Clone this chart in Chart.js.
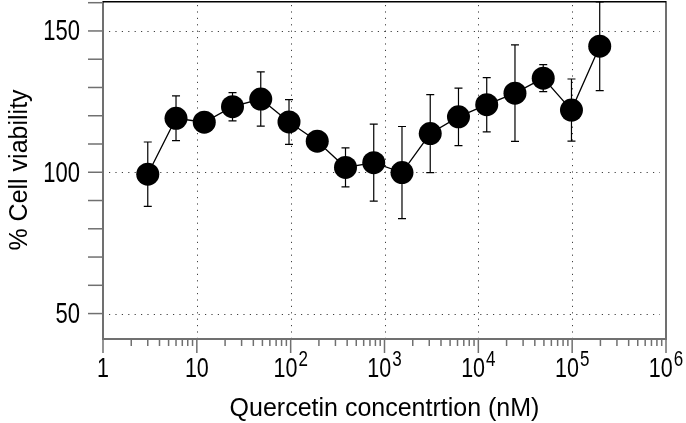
<!DOCTYPE html>
<html>
<head>
<meta charset="utf-8">
<script src="https://cdn.jsdelivr.net/npm/chart.js@4.4.0/dist/chart.umd.min.js"></script>
<style>
  html, body { margin: 0; padding: 0; background: #fff; }
  #wrap { width: 686px; height: 423px; position: relative; }
</style>
</head>
<body>
<div id="wrap"><canvas id="viabilityChart"></canvas></div>
<script>
// Quercetin dose response
const concentrations = [3, 6, 12, 24, 48, 96, 192, 384, 768, 1536, 3072, 6144, 12288, 24576, 49152, 98304, 196608];
const viability = [99.3, 119.1, 117.7, 123.2, 125.9, 117.8, 111.0, 101.7, 103.4, 99.9, 113.7, 119.6, 123.9, 128.0, 133.3, 122.0, 144.6];
const viabilitySd = [11.4, 7.9, 1.5, 5.0, 9.6, 7.9, 1.5, 6.9, 13.6, 16.3, 13.8, 10.2, 9.6, 17.1, 4.8, 11.0, 15.7];

// axis labels
const xTickValues = [1, 10, 100, 1000, 10000, 100000, 1000000];
const xTickBase = ['1', '10', '10', '10', '10', '10', '10'];
const xTickExp = ['', '', '2', '3', '4', '5', '6'];
const yTickValues = [50, 100, 150];
const yTickLabels = ['50', '100', '150'];
const yMinorTicks = [50, 60, 70, 80, 90, 100, 110, 120, 130, 140, 150, 160];

const FONT = '"Liberation Sans", Arial, Helvetica, sans-serif';
const AXIS_GREY = '#707070';

// draw text squeezed a bit taller, like the original figure
function tallText(ctx, str, x, y, size, align, stretch) {
  ctx.save();
  ctx.translate(x, y);
  ctx.scale(1, stretch);
  ctx.font = size + 'px ' + FONT;
  ctx.textAlign = align;
  ctx.textBaseline = 'alphabetic';
  ctx.fillText(str, 0, 0);
  ctx.restore();
}

const figureDecor = {
  id: 'figureDecor',
  beforeDatasetsDraw(chart) {
    const { ctx, chartArea: a, scales: { x, y } } = chart;
    ctx.save();
    ctx.beginPath();
    ctx.rect(a.left, a.top, a.right - a.left, a.bottom - a.top);
    ctx.clip();

    // dotted grid
    ctx.strokeStyle = 'rgba(0,0,0,0.75)';
    ctx.lineWidth = 1;
    ctx.setLineDash([1.2, 5.2]);
    xTickValues.slice(1, -1).forEach(v => {
      const px = Math.round(x.getPixelForValue(v)) + 0.5;
      ctx.beginPath();
      ctx.moveTo(px, a.top + 4);
      ctx.lineTo(px, a.bottom);
      ctx.stroke();
    });
    yTickValues.forEach(v => {
      const py = Math.round(y.getPixelForValue(v)) + 0.5;
      ctx.beginPath();
      ctx.moveTo(a.left + 6, py);
      ctx.lineTo(a.right - 6, py);
      ctx.stroke();
    });
    ctx.setLineDash([]);

    // error bars
    ctx.strokeStyle = '#000';
    ctx.lineWidth = 1.2;
    concentrations.forEach((c, i) => {
      const px = x.getPixelForValue(c);
      const top = y.getPixelForValue(viability[i] + viabilitySd[i]);
      const bot = y.getPixelForValue(viability[i] - viabilitySd[i]);
      ctx.beginPath();
      ctx.moveTo(px, top);
      ctx.lineTo(px, bot);
      ctx.moveTo(px - 4, top);
      ctx.lineTo(px + 4, top);
      ctx.moveTo(px - 4, bot);
      ctx.lineTo(px + 4, bot);
      ctx.stroke();
    });
    ctx.restore();
  },
  afterDraw(chart) {
    const { ctx, chartArea: a, scales: { x, y } } = chart;
    ctx.save();

    // frame
    ctx.lineWidth = 2;
    ctx.strokeStyle = AXIS_GREY;
    ctx.beginPath();
    ctx.moveTo(a.left, a.top);
    ctx.lineTo(a.left, a.bottom);
    ctx.lineTo(a.right, a.bottom);
    ctx.lineTo(a.right, a.top);
    ctx.stroke();
    ctx.strokeStyle = '#000';
    ctx.lineWidth = 1.5;
    ctx.beginPath();
    ctx.moveTo(a.left, a.top + 0.75);
    ctx.lineTo(a.right, a.top + 0.75);
    ctx.stroke();

    // y tick marks
    ctx.strokeStyle = AXIS_GREY;
    ctx.lineWidth = 1.5;
    yMinorTicks.forEach(v => {
      const py = y.getPixelForValue(v);
      if (py < a.top + 1) return;
      ctx.beginPath();
      ctx.moveTo(a.left - 15, py);
      ctx.lineTo(a.left, py);
      ctx.stroke();
    });

    // x tick marks, decades long and 2..9 short
    xTickValues.forEach((v, i) => {
      const px = x.getPixelForValue(v);
      ctx.beginPath();
      ctx.moveTo(px, a.bottom);
      ctx.lineTo(px, a.bottom + 14);
      ctx.stroke();
      if (i < xTickValues.length - 1) {
        for (let m = 2; m <= 9; m++) {
          const mx = x.getPixelForValue(v * m);
          ctx.beginPath();
          ctx.moveTo(mx, a.bottom);
          ctx.lineTo(mx, a.bottom + 7);
          ctx.stroke();
        }
      }
    });

    ctx.fillStyle = '#000';
    // y labels
    yTickValues.forEach((v, i) => {
      const py = y.getPixelForValue(v);
      tallText(ctx, yTickLabels[i], a.left - 23, py + 9.5, 22, 'right', 1.3);
    });

    // x labels with exponents
    xTickValues.forEach((v, i) => {
      const px = x.getPixelForValue(v);
      ctx.font = '21.5px ' + FONT;
      const wb = ctx.measureText(xTickBase[i]).width;
      ctx.font = '17px ' + FONT;
      const we = xTickExp[i] ? ctx.measureText(xTickExp[i]).width + 1 : 0;
      const start = px - (wb + we) / 2;
      tallText(ctx, xTickBase[i], start, a.bottom + 38, 21.5, 'left', 1.3);
      if (xTickExp[i]) {
        tallText(ctx, xTickExp[i], start + wb + 1, a.bottom + 27, 17, 'left', 1.3);
      }
    });

    // axis titles
    ctx.font = '25px ' + FONT;
    ctx.textAlign = 'center';
    ctx.textBaseline = 'alphabetic';
    ctx.fillText('Quercetin concentrtion (nM)', (a.left + a.right) / 2, 416);
    ctx.save();
    ctx.translate(27, (a.top + a.bottom) / 2);
    ctx.rotate(-Math.PI / 2);
    ctx.fillText('% Cell viability', 0, 0);
    ctx.restore();

    ctx.restore();
  }
};

const points = concentrations.map((c, i) => ({ x: c, y: viability[i] }));

new Chart(document.getElementById('viabilityChart'), {
  type: 'line',
  data: {
    datasets: [
      {
        data: points,
        borderColor: '#000',
        borderWidth: 1.3,
        tension: 0,
        pointRadius: 11.5,
        pointHoverRadius: 11.5,
        pointBackgroundColor: '#000',
        pointBorderColor: '#000',
        pointBorderWidth: 0,
        clip: false
      },
      {
        // little white centre dot of each marker
        data: points,
        showLine: false,
        pointRadius: 1.3,
        pointBackgroundColor: '#fff',
        pointBorderWidth: 0,
        clip: false
      }
    ]
  },
  plugins: [figureDecor],
  options: {
    responsive: true,
    maintainAspectRatio: false,
    animation: false,
    events: [],
    layout: { autoPadding: false, padding: { left: 103, right: 20, top: 1, bottom: 84 } },
    scales: {
      x: {
        type: 'logarithmic',
        min: 1,
        max: 1000000,
        grid: { display: false, drawTicks: false },
        border: { display: false },
        ticks: { display: false }
      },
      y: {
        type: 'linear',
        min: 41,
        max: 160.6,
        grid: { display: false, drawTicks: false },
        border: { display: false },
        ticks: { display: false }
      }
    },
    plugins: {
      legend: { display: false },
      tooltip: { enabled: false }
    }
  }
});
</script>
</body>
</html>
